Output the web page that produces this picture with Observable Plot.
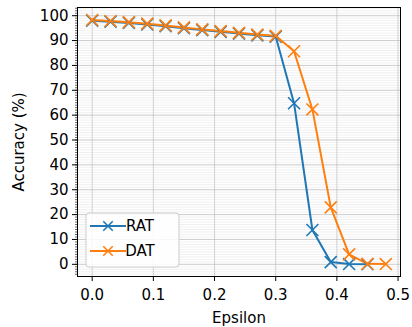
<!DOCTYPE html>
<html>
<head>
<meta charset="utf-8">
<script src="https://cdn.jsdelivr.net/npm/d3@7"></script>
<script src="https://cdn.jsdelivr.net/npm/@observablehq/plot@0.6"></script>
<style>
  html, body { margin: 0; padding: 0; background: white; }
  #chart { position: relative; width: 412px; height: 327px; }
</style>
</head>
<body>
<div id="chart"></div>
<script>
const epsilon = [0, 0.03, 0.06, 0.09, 0.12, 0.15, 0.18, 0.21, 0.24, 0.27, 0.30, 0.33, 0.36, 0.39, 0.42, 0.45, 0.48];
const ratAcc = [98.0, 97.6, 97.1, 96.5, 95.8, 95.0, 94.2, 93.5, 92.8, 92.1, 91.6, 64.8, 13.8, 0.9, 0.1, 0.0];
const datAcc = [98.3, 97.9, 97.4, 96.8, 96.1, 95.3, 94.5, 93.8, 93.1, 92.4, 91.9, 85.7, 62.3, 22.9, 4.0, 0.2, 0.1];
const seriesNames = ["RAT", "DAT"];
const seriesColors = ["#1f77b4", "#ff7f0e"];
const xTicks = [0, 0.1, 0.2, 0.3, 0.4, 0.5];
const yTicks = [0, 10, 20, 30, 40, 50, 60, 70, 80, 90, 100];

const rows = [];
ratAcc.forEach((v, i) => rows.push({series: "RAT", eps: epsilon[i], acc: v}));
datAcc.forEach((v, i) => rows.push({series: "DAT", eps: epsilon[i], acc: v}));

const minorY = d3.range(-4, 104, 1);

const plot = Plot.plot({
  width: 412,
  height: 327,
  marginLeft: 77,
  marginRight: 12,
  marginTop: 7,
  marginBottom: 51,
  style: {fontFamily: "DejaVu Sans", fontSize: "15px", color: "black", background: "white"},
  x: {domain: [-0.024, 0.504]},
  y: {domain: [-4.9, 103.3]},
  color: {domain: seriesNames, range: seriesColors},
  marks: [
    Plot.ruleY(minorY, {stroke: "#e6e6e6", strokeWidth: 0.6}),
    Plot.gridX(xTicks, {stroke: "#b0b0b0", strokeOpacity: 0.55, strokeWidth: 1}),
    Plot.gridY(yTicks, {stroke: "#b0b0b0", strokeOpacity: 0.55, strokeWidth: 1}),
    Plot.axisY(minorY, {tickSize: 2, text: null, label: null, stroke: "black", strokeWidth: 0.6}),
    Plot.axisY(yTicks, {tickSize: 5, tickPadding: 4, fontSize: 15, label: "Accuracy (%)", labelAnchor: "center", labelArrow: "none", labelOffset: 64, tickFormat: d3.format("d")}),
    Plot.axisX(xTicks, {tickSize: 5, tickPadding: 8, fontSize: 15, label: "Epsilon", labelAnchor: "center", labelArrow: "none", labelOffset: 46, tickFormat: d3.format(".1f")}),
    Plot.line(rows, {x: "eps", y: "acc", stroke: "series", strokeWidth: 2}),
    Plot.dot(rows, {x: "eps", y: "acc", stroke: "series", symbol: "times", r: 5.5, strokeWidth: 1.6}),
    Plot.frame({stroke: "black", strokeWidth: 1})
  ]
});
document.getElementById("chart").appendChild(plot);

// Legend (inside axes, lower left)
const svg = d3.select(plot);
const lg = svg.append("g");
lg.append("rect").attr("x", 86).attr("y", 213).attr("width", 93).attr("height", 54)
  .attr("rx", 3).attr("fill", "white").attr("fill-opacity", 0.85)
  .attr("stroke", "#cccccc").attr("stroke-width", 1);
seriesNames.forEach((name, i) => {
  const y = 226 + i * 25;
  lg.append("line").attr("x1", 90).attr("x2", 126).attr("y1", y).attr("y2", y)
    .attr("stroke", seriesColors[i]).attr("stroke-width", 2);
  lg.append("path").attr("d", d3.symbol(d3.symbolTimes, 60)()).attr("transform", `translate(108,${y})`)
    .attr("fill", "none").attr("stroke", seriesColors[i]).attr("stroke-width", 1.6);
  lg.append("text").attr("x", 140).attr("y", y).attr("dy", "0.36em")
    .attr("font-size", 15).attr("font-family", "DejaVu Sans").attr("fill", "black").text(name);
});
</script>
</body>
</html>
